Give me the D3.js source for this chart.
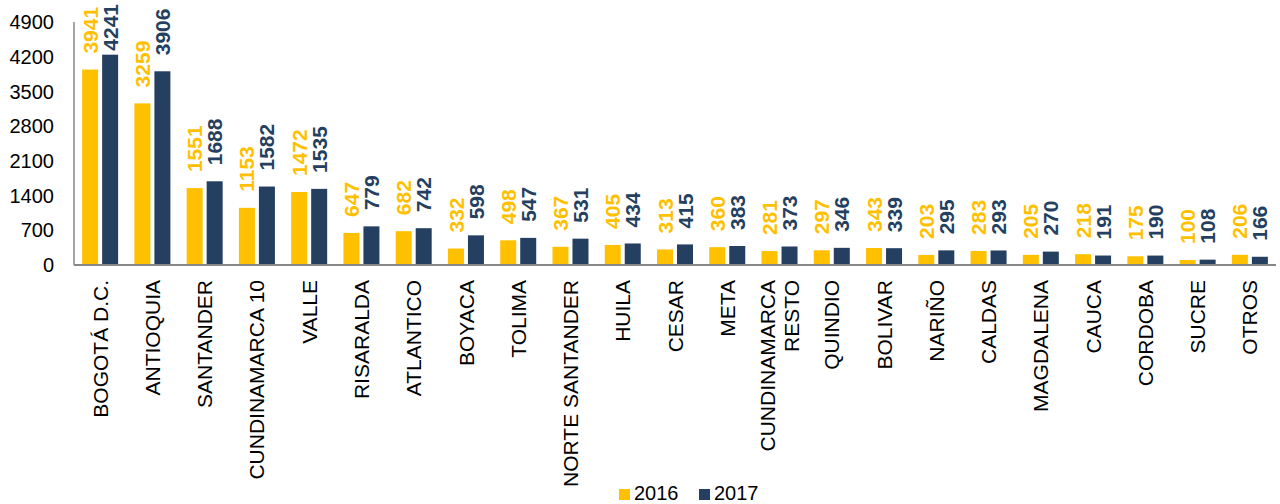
<!DOCTYPE html>
<html>
<head>
<meta charset="utf-8">
<script src="https://cdn.jsdelivr.net/npm/d3@7"></script>
<style>
  html, body { margin: 0; padding: 0; background: #fff; }
  svg { display: block; font-family: "Liberation Sans", Arial, sans-serif; }
</style>
</head>
<body>
<div id="container"></div>
<script>
// Departments (categories) and the two years of values
const categories = [
  ["BOGOTÁ D.C."], ["ANTIOQUIA"], ["SANTANDER"], ["CUNDINAMARCA 10"], ["VALLE"],
  ["RISARALDA"], ["ATLANTICO"], ["BOYACA"], ["TOLIMA"], ["NORTE SANTANDER"],
  ["HUILA"], ["CESAR"], ["META"], ["CUNDINAMARCA", "RESTO"], ["QUINDIO"],
  ["BOLIVAR"], ["NARIÑO"], ["CALDAS"], ["MAGDALENA"], ["CAUCA"],
  ["CORDOBA"], ["SUCRE"], ["OTROS"]
];
const values2016 = [3941, 3259, 1551, 1153, 1472, 647, 682, 332, 498, 367, 405, 313, 360, 281, 297, 343, 203, 283, 205, 218, 175, 100, 206];
const values2017 = [4241, 3906, 1688, 1582, 1535, 779, 742, 598, 547, 531, 434, 415, 383, 373, 346, 339, 295, 293, 270, 191, 190, 108, 166];
const seriesNames = ["2016", "2017"];
const yTicks = [0, 700, 1400, 2100, 2800, 3500, 4200, 4900];

const colors = ["#FFC000", "#243F60"];
const width = 1280, height = 504;
const plotLeft = 74, plotRight = 1276, plotTop = 22, plotBottom = 265;

const svg = d3.select("#container").append("svg")
  .attr("width", width)
  .attr("height", height);

const x = d3.scaleBand()
  .domain(d3.range(categories.length))
  .range([plotLeft, plotRight]);

const y = d3.scaleLinear()
  .domain([0, 4900])
  .range([plotBottom, plotTop]);

const barW = 16, barGap = 4;
const groupW = barW * 2 + barGap;
const barX = (i, si) => x(i) + (x.bandwidth() - groupW) / 2 + si * (barW + barGap);

const series = [values2016, values2017];

// Bars
series.forEach((vals, si) => {
  svg.append("g").selectAll("rect")
    .data(vals)
    .join("rect")
      .attr("x", (d, i) => barX(i, si))
      .attr("width", barW)
      .attr("y", d => y(d))
      .attr("height", d => y(0) - y(d))
      .attr("fill", colors[si]);
});

// Value labels (rotated), kept inside the top of the plot
series.forEach((vals, si) => {
  svg.append("g").selectAll("text")
    .data(vals)
    .join("text")
      .attr("font-size", 21)
      .attr("font-weight", "bold")
      .attr("fill", colors[si])
      .attr("dy", "0.36em")
      .text(d => d)
      .attr("transform", function(d, i) {
        const cx = barX(i, si) + barW / 2;
        const len = this.getComputedTextLength();
        const cy = Math.max(y(d) - 16, 4 + len);
        return `translate(${cx},${cy}) rotate(-90)`;
      });
});

// Y axis tick labels
svg.append("g").selectAll("text")
  .data(yTicks)
  .join("text")
    .attr("x", 54)
    .attr("y", d => y(d))
    .attr("dy", "0.36em")
    .attr("text-anchor", "end")
    .attr("font-size", 20)
    .attr("fill", "#000")
    .text(d => d);

// Axis lines
svg.append("line")
  .attr("x1", plotLeft).attr("x2", plotLeft)
  .attr("y1", plotTop).attr("y2", plotBottom)
  .attr("stroke", "#868686").attr("stroke-width", 1.5);
svg.append("line")
  .attr("x1", plotLeft).attr("x2", plotRight)
  .attr("y1", plotBottom).attr("y2", plotBottom)
  .attr("stroke", "#868686").attr("stroke-width", 2);

// Category labels (rotated, may wrap to two lines)
const cat = svg.append("g").selectAll("text")
  .data(categories)
  .join("text")
    .attr("transform", (d, i) => {
      const cx = x(i) + x.bandwidth() / 2 - (d.length - 1) * 12;
      return `translate(${cx},280) rotate(-90)`;
    })
    .attr("text-anchor", "end")
    .attr("font-size", 21)
    .attr("fill", "#000");
cat.each(function(d) {
  d3.select(this).selectAll("tspan")
    .data(d)
    .join("tspan")
      .attr("x", 0)
      .attr("dy", (t, j) => j === 0 ? "0.36em" : "1.15em")
      .text(t => t);
});

// Legend
const legend = svg.append("g");
const legendX = [619, 699];
seriesNames.forEach((name, si) => {
  legend.append("rect")
    .attr("x", legendX[si]).attr("y", 489)
    .attr("width", 11).attr("height", 11)
    .attr("fill", colors[si]);
  legend.append("text")
    .attr("x", legendX[si] + 15).attr("y", 500)
    .attr("font-size", 20)
    .attr("fill", "#000")
    .text(name);
});
</script>
</body>
</html>
